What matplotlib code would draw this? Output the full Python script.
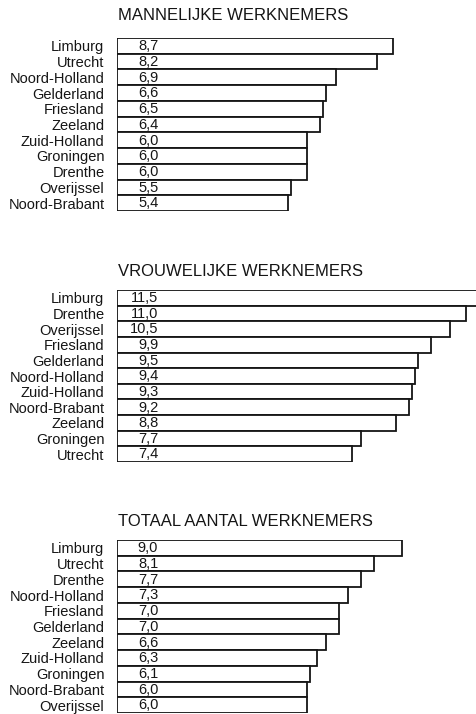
import matplotlib.pyplot as plt
from matplotlib.transforms import ScaledTranslation

plt.rcParams['font.family'] = ['Liberation Sans', 'DejaVu Sans']

mannen_labels = ["Limburg", "Utrecht", "Noord-Holland", "Gelderland", "Friesland", "Zeeland",
                 "Zuid-Holland", "Groningen", "Drenthe", "Overijssel", "Noord-Brabant"]
mannen = [8.7, 8.2, 6.9, 6.6, 6.5, 6.4, 6.0, 6.0, 6.0, 5.5, 5.4]

vrouwen_labels = ["Limburg", "Drenthe", "Overijssel", "Friesland", "Gelderland", "Noord-Holland",
                  "Zuid-Holland", "Noord-Brabant", "Zeeland", "Groningen", "Utrecht"]
vrouwen = [11.5, 11.0, 10.5, 9.9, 9.5, 9.4, 9.3, 9.2, 8.8, 7.7, 7.4]

totaal_labels = ["Limburg", "Utrecht", "Drenthe", "Noord-Holland", "Friesland", "Gelderland",
                 "Zeeland", "Zuid-Holland", "Groningen", "Noord-Brabant", "Overijssel"]
totaal = [9.0, 8.1, 7.7, 7.3, 7.0, 7.0, 6.6, 6.3, 6.1, 6.0, 6.0]

titels = ["MANNELIJKE WERKNEMERS", "VROUWELIJKE WERKNEMERS", "TOTAAL AANTAL WERKNEMERS"]

W, H = 476, 714
fig = plt.figure(figsize=(W / 100, H / 100), dpi=100)

ink = '#151515'
left = 117
px_per_unit = 31.7
# (title y, bars top, bars bottom) in pixels
panels = [(15, 38, 211), (271, 290, 462), (522, 540, 713)]
series = [(mannen_labels, mannen), (vrouwen_labels, vrouwen), (totaal_labels, totaal)]

for (ty, top, bottom), (labels, vals), titel in zip(panels, series, titels):
    ax = fig.add_axes([left / W, 1 - bottom / H, (W - left) / W, (bottom - top) / H])
    n = len(vals)
    ax.barh(range(n), vals, height=1.0, color='white', edgecolor=ink, linewidth=1.3)
    ax.set_xlim(0, (W - left) / px_per_unit)
    ax.set_ylim(n - 0.5, -0.5)
    for i, v in enumerate(vals):
        ax.text(1.3, i + 0.02, f"{v:.1f}".replace('.', ','), ha='right', va='center',
                fontsize=10.5, color=ink)
    ax.set_yticks(range(n))
    ax.set_yticklabels(labels, fontsize=10.5, color=ink)
    shift = ScaledTranslation(0, 2 / 100, fig.dpi_scale_trans)
    for lab in ax.get_yticklabels():
        lab.set_transform(lab.get_transform() + shift)
    ax.tick_params(axis='y', length=0, pad=9)
    ax.set_xticks([])
    for s in ax.spines.values():
        s.set_visible(False)
    fig.text(118 / W, 1 - ty / H, titel, ha='left', va='center', fontsize=12, color=ink)

fig.savefig("out.png", dpi=100)
